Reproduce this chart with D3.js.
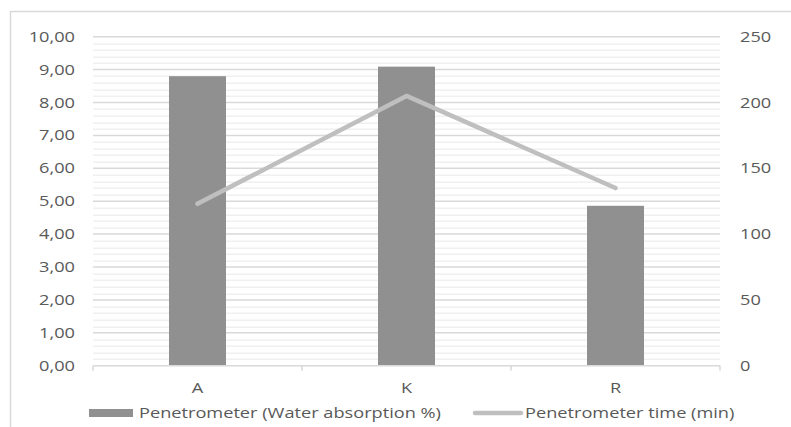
<!DOCTYPE html>
<html>
<head>
<meta charset="utf-8">
<script src="https://cdn.jsdelivr.net/npm/d3@7"></script>
<style>
  body { margin: 0; background: #fff; }
  text { font-family: "Open Sans", sans-serif; fill: #595959; }
</style>
</head>
<body>
<svg class="chart" width="791" height="427"></svg>
<script>
// data
var categories = ["A", "K", "R"];
var absorption = [8.80, 9.09, 4.86];      // left axis, bars
var timeMin = [123, 205, 135];            // right axis, line
var leftTicks = d3.range(0, 10.01, 1);
var rightTicks = [0, 50, 100, 150, 200, 250];
var seriesNames = ["Penetrometer (Water absorption %)", "Penetrometer time (min)"];

var margin = {top: 36.7, left: 93, right: 71, bottom: 61.3},
    width = 791 - margin.left - margin.right,
    height = 427 - margin.top - margin.bottom;

var sx = 1.3; // text in the picture is stretched sideways

var svg = d3.select(".chart");

svg.append("rect")
    .attr("x", 10.5).attr("y", 11.5)
    .attr("width", 800).attr("height", 430)
    .attr("fill", "none").attr("stroke", "#d9d9d9").attr("stroke-width", 1.5);

var chart = svg.append("g")
    .attr("transform", "translate(" + margin.left + "," + margin.top + ")");

var x = d3.scaleBand().domain(categories).range([0, width]).paddingInner(0).paddingOuter(0);
var y = d3.scaleLinear().domain([0, 10]).range([height, 0]);
var y2 = d3.scaleLinear().domain([0, 250]).range([height, 0]);

// minor grid
chart.selectAll(".minor")
    .data(d3.range(0, 10.001, 0.2).filter(function(v) { return Math.abs(v - Math.round(v)) > 0.01; }))
    .enter().append("line")
    .attr("x1", 0).attr("x2", width)
    .attr("y1", function(d) { return Math.round(y(d)) + 0.5; })
    .attr("y2", function(d) { return Math.round(y(d)) + 0.5; })
    .attr("stroke", "#f0f0f0").attr("stroke-width", 1.5);

// major grid
chart.selectAll(".major")
    .data(leftTicks.slice(1))
    .enter().append("line")
    .attr("x1", 0).attr("x2", width)
    .attr("y1", function(d) { return y(d); })
    .attr("y2", function(d) { return y(d); })
    .attr("stroke", "#d9d9d9").attr("stroke-width", 1.5);

// bars
var barW = 57;
chart.selectAll(".bar")
    .data(absorption)
    .enter().append("rect")
    .attr("x", function(d, i) { return x(categories[i]) + x.bandwidth() / 2 - barW / 2; })
    .attr("y", function(d) { return y(d); })
    .attr("width", barW)
    .attr("height", function(d) { return height - y(d); })
    .attr("fill", "#909090");

// x axis
chart.append("line")
    .attr("x1", 0).attr("x2", width)
    .attr("y1", height).attr("y2", height)
    .attr("stroke", "#d9d9d9").attr("stroke-width", 1.5);
chart.selectAll(".xtick")
    .data(d3.range(categories.length + 1))
    .enter().append("line")
    .attr("x1", function(d) { return d * x.step(); })
    .attr("x2", function(d) { return d * x.step(); })
    .attr("y1", height).attr("y2", height + 5)
    .attr("stroke", "#d9d9d9").attr("stroke-width", 1.5);

chart.selectAll(".xlabel")
    .data(categories)
    .enter().append("text")
    .attr("transform", function(d) {
        return "translate(" + (x(d) + x.bandwidth() / 2) + "," + (height + 27.5) + ") scale(" + sx + ",1)";
    })
    .attr("text-anchor", "middle")
    .style("font-size", "14px")
    .text(function(d) { return d; });

// line
var line = d3.line()
    .x(function(d, i) { return x(categories[i]) + x.bandwidth() / 2; })
    .y(function(d) { return y2(d); });

chart.append("path")
    .datum(timeMin)
    .attr("d", line)
    .attr("fill", "none")
    .attr("stroke", "#bfbfbf")
    .attr("stroke-width", 4.5)
    .attr("stroke-linecap", "round")
    .attr("stroke-linejoin", "round");

// left labels
var fmt = function(v) { return d3.format(".2f")(v).replace(".", ","); };
chart.selectAll(".ylabel")
    .data(leftTicks)
    .enter().append("text")
    .attr("transform", function(d) { return "translate(-18," + (y(d) + 5) + ") scale(" + sx + ",1)"; })
    .attr("text-anchor", "end")
    .style("font-size", "14px")
    .text(fmt);

// right labels
chart.selectAll(".y2label")
    .data(rightTicks)
    .enter().append("text")
    .attr("transform", function(d) { return "translate(" + (width + 20) + "," + (y2(d) + 5) + ") scale(" + sx + ",1)"; })
    .attr("text-anchor", "start")
    .style("font-size", "14px")
    .text(function(d) { return d; });

// legend
var legend = svg.append("g");
legend.append("rect")
    .attr("x", 89).attr("y", 409)
    .attr("width", 44).attr("height", 8)
    .attr("fill", "#909090");
legend.append("text")
    .attr("transform", "translate(139,418) scale(" + sx + ",1)")
    .style("font-size", "14px")
    .text(seriesNames[0]);
legend.append("line")
    .attr("x1", 475).attr("x2", 521)
    .attr("y1", 413).attr("y2", 413)
    .attr("stroke", "#bfbfbf").attr("stroke-width", 4.5)
    .attr("stroke-linecap", "round");
legend.append("text")
    .attr("transform", "translate(525,418) scale(" + sx + ",1)")
    .style("font-size", "14px")
    .text(seriesNames[1]);
</script>
</body>
</html>
